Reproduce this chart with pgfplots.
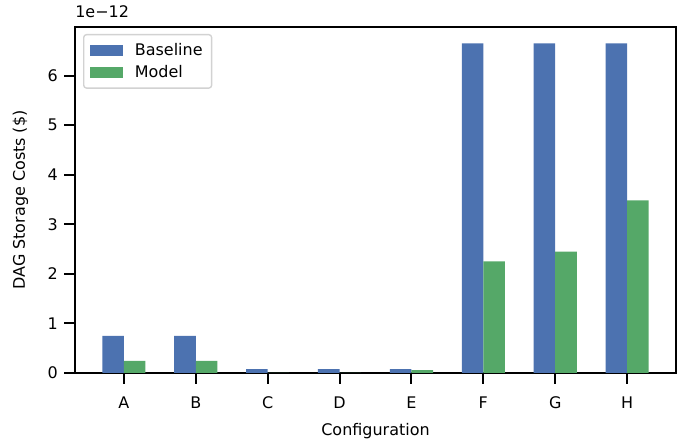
\documentclass[border=0pt]{standalone}
\usepackage{fontspec}
\setmainfont{DejaVu Sans}
\usepackage{pgfplots}
\pgfplotsset{compat=1.18}
\definecolor{cb}{HTML}{4C72B0}
\definecolor{cg}{HTML}{55A868}
\begin{document}
\begin{tikzpicture}[font=\fontsize{11.5}{13.8}\selectfont]
\begin{axis}[
  scale only axis, width=432.7pt, height=249.1pt,
  xmin=-0.68, xmax=7.68, ymin=0, ymax=6.98,
  xtick={0,1,2,3,4,5,6,7}, xticklabels={A,B,C,D,E,F,G,H},
  ytick={0,1,2,3,4,5,6},
  tick align=outside, major tick length=7.9pt,
  tick style={line width=1.4pt, black},
  axis line style={line width=1.4pt},
  xtick pos=lower, ytick pos=left,
  xticklabel style={yshift=-5.5pt},
  yticklabel style={xshift=-1pt},
  /pgf/number format/assume math mode=true,
  xlabel={Configuration}, ylabel={DAG Storage Costs (\$)},
  xlabel style={at={(axis description cs:0.5,-0.182)}, anchor=base},
  ylabel style={at={(axis description cs:-0.0907,0.5)}, anchor=center},
  ybar, bar width=0.3,
  legend style={at={(0,1)}, anchor=north west, xshift=5.8pt, yshift=-5pt,
    draw=gray!35, line width=1pt, rounded corners=2pt, fill=white,
    cells={anchor=west}, row sep=2pt, inner xsep=4.5pt, inner ysep=4pt,
    /tikz/every odd column/.append style={column sep=6.5pt}},
  legend image code/.code={\fill[#1, sharp corners] (0pt,-4pt) rectangle (23.8pt,4pt);},
]
\addplot[fill=cb, draw=none, bar shift=-0.15] coordinates {
  (0,0.75) (1,0.75) (2,0.08) (3,0.08) (4,0.08) (5,6.65) (6,6.65) (7,6.65)};
\addlegendentry{Baseline}
\addplot[fill=cg, draw=none, bar shift=0.15] coordinates {
  (0,0.245) (1,0.245) (2,0) (3,0) (4,0.06) (5,2.25) (6,2.45) (7,3.48)};
\addlegendentry{Model}
\end{axis}
\node[anchor=south west, inner sep=0pt] at ([shift={(0pt,6.5pt)}]current axis.north west) {1e−12};
\pgfresetboundingbox
\path ([shift={(-54pt,-51.84pt)}]current axis.south west) rectangle ([shift={(9.36pt,19.44pt)}]current axis.north east);
\end{tikzpicture}
\end{document}
